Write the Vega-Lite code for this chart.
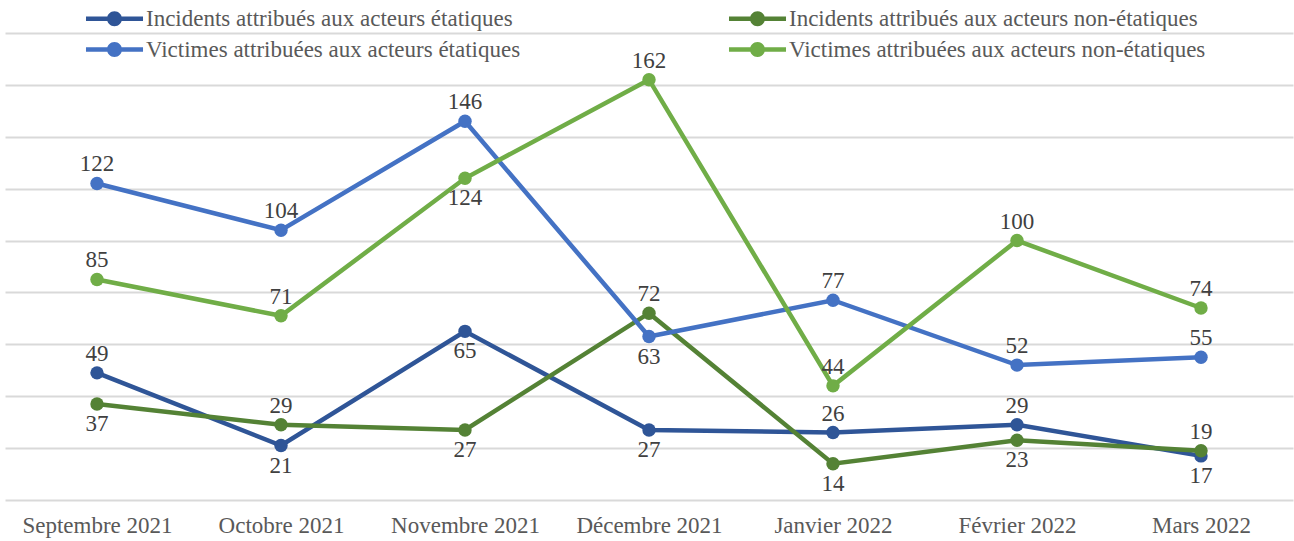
{
  "$schema": "https://vega.github.io/schema/vega-lite/v6.json",
  "width": 1288,
  "height": 467,
  "autosize": {"type": "none"},
  "padding": {"left": 5, "top": 33, "right": 1, "bottom": 41},
  "background": "white",
  "config": {"font": "Liberation Serif", "view": {"stroke": null},
    "axis": {"labelFont": "Liberation Serif"}, "legend": {"labelFont": "Liberation Serif"}, "text": {"font": "Liberation Serif"}},
  "data": {"values": [
    {"mois": "Septembre 2021", "serie": "Incidents attribués aux acteurs étatiques", "valeur": 49},
    {"mois": "Octobre 2021", "serie": "Incidents attribués aux acteurs étatiques", "valeur": 21},
    {"mois": "Novembre 2021", "serie": "Incidents attribués aux acteurs étatiques", "valeur": 65},
    {"mois": "Décembre 2021", "serie": "Incidents attribués aux acteurs étatiques", "valeur": 27},
    {"mois": "Janvier 2022", "serie": "Incidents attribués aux acteurs étatiques", "valeur": 26},
    {"mois": "Février 2022", "serie": "Incidents attribués aux acteurs étatiques", "valeur": 29},
    {"mois": "Mars 2022", "serie": "Incidents attribués aux acteurs étatiques", "valeur": 17},
    {"mois": "Septembre 2021", "serie": "Incidents attribués aux acteurs non-étatiques", "valeur": 37},
    {"mois": "Octobre 2021", "serie": "Incidents attribués aux acteurs non-étatiques", "valeur": 29},
    {"mois": "Novembre 2021", "serie": "Incidents attribués aux acteurs non-étatiques", "valeur": 27},
    {"mois": "Décembre 2021", "serie": "Incidents attribués aux acteurs non-étatiques", "valeur": 72},
    {"mois": "Janvier 2022", "serie": "Incidents attribués aux acteurs non-étatiques", "valeur": 14},
    {"mois": "Février 2022", "serie": "Incidents attribués aux acteurs non-étatiques", "valeur": 23},
    {"mois": "Mars 2022", "serie": "Incidents attribués aux acteurs non-étatiques", "valeur": 19},
    {"mois": "Septembre 2021", "serie": "Victimes attribuées aux acteurs étatiques", "valeur": 122},
    {"mois": "Octobre 2021", "serie": "Victimes attribuées aux acteurs étatiques", "valeur": 104},
    {"mois": "Novembre 2021", "serie": "Victimes attribuées aux acteurs étatiques", "valeur": 146},
    {"mois": "Décembre 2021", "serie": "Victimes attribuées aux acteurs étatiques", "valeur": 63},
    {"mois": "Janvier 2022", "serie": "Victimes attribuées aux acteurs étatiques", "valeur": 77},
    {"mois": "Février 2022", "serie": "Victimes attribuées aux acteurs étatiques", "valeur": 52},
    {"mois": "Mars 2022", "serie": "Victimes attribuées aux acteurs étatiques", "valeur": 55},
    {"mois": "Septembre 2021", "serie": "Victimes attribuées aux acteurs non-étatiques", "valeur": 85},
    {"mois": "Octobre 2021", "serie": "Victimes attribuées aux acteurs non-étatiques", "valeur": 71},
    {"mois": "Novembre 2021", "serie": "Victimes attribuées aux acteurs non-étatiques", "valeur": 124},
    {"mois": "Décembre 2021", "serie": "Victimes attribuées aux acteurs non-étatiques", "valeur": 162},
    {"mois": "Janvier 2022", "serie": "Victimes attribuées aux acteurs non-étatiques", "valeur": 44},
    {"mois": "Février 2022", "serie": "Victimes attribuées aux acteurs non-étatiques", "valeur": 100},
    {"mois": "Mars 2022", "serie": "Victimes attribuées aux acteurs non-étatiques", "valeur": 74}
  ]},
  "encoding": {
    "x": {"field": "mois", "type": "ordinal",
      "sort": ["Septembre 2021", "Octobre 2021", "Novembre 2021", "Décembre 2021", "Janvier 2022", "Février 2022", "Mars 2022"],
      "scale": {"type": "point", "padding": 0.5},
      "axis": {"title": null, "labelAngle": 0, "domain": false, "ticks": false, "grid": false, "labelFontSize": 23, "labelColor": "#595959", "labelPadding": 14}},
    "y": {"field": "valeur", "type": "quantitative",
      "scale": {"domain": [0, 180], "nice": false},
      "axis": {"title": null, "labels": false, "ticks": false, "domain": false, "values": [0, 20, 40, 60, 80, 100, 120, 140, 160, 180], "gridColor": "#d9d9d9", "gridWidth": 2}}
  },
  "layer": [
    {
      "mark": {"type": "line", "strokeWidth": 4.5, "point": {"size": 180, "filled": true, "opacity": 1}},
      "encoding": {
        "color": {"field": "serie", "type": "nominal",
          "scale": {"domain": ["Incidents attribués aux acteurs étatiques", "Incidents attribués aux acteurs non-étatiques", "Victimes attribuées aux acteurs étatiques", "Victimes attribuées aux acteurs non-étatiques"],
                    "range": ["#2F5597", "#548235", "#4472C4", "#70AD47"]},
          "legend": {"title": null, "orient": "none", "legendX": 98, "legendY": -26, "columns": 2, "direction": "horizontal",
            "symbolType": "M-2.48,-0.19 L2.48,-0.19 L2.48,0.19 L-2.48,0.19 Z M-0.65,0 A0.65,0.65 0 1,1 0.65,0 A0.65,0.65 0 1,1 -0.65,0 Z",
            "symbolSize": 529, "symbolStrokeWidth": 0, "labelFontSize": 23, "labelColor": "#595959", "labelOffset": 20,
            "columnPadding": 207, "rowPadding": 7, "labelLimit": 600,
            "encode": {"symbols": {"update": {"fill": {"scale": "color", "field": "value"}, "opacity": {"value": 1}}}}}
        }
      }
    },
    {
      "transform": [{"filter": "indexof(['Incidents attribués aux acteurs étatiques|Octobre 2021','Incidents attribués aux acteurs étatiques|Novembre 2021','Incidents attribués aux acteurs étatiques|Décembre 2021','Incidents attribués aux acteurs étatiques|Mars 2022','Incidents attribués aux acteurs non-étatiques|Septembre 2021','Incidents attribués aux acteurs non-étatiques|Novembre 2021','Incidents attribués aux acteurs non-étatiques|Janvier 2022','Incidents attribués aux acteurs non-étatiques|Février 2022','Victimes attribuées aux acteurs étatiques|Décembre 2021','Victimes attribuées aux acteurs non-étatiques|Novembre 2021'], datum.serie + '|' + datum.mois) < 0"}],
      "mark": {"type": "text", "dy": -19, "fontSize": 23, "color": "#404040"},
      "encoding": {"text": {"field": "valeur", "type": "quantitative"}}
    },
    {
      "transform": [{"filter": "indexof(['Incidents attribués aux acteurs étatiques|Octobre 2021','Incidents attribués aux acteurs étatiques|Novembre 2021','Incidents attribués aux acteurs étatiques|Décembre 2021','Incidents attribués aux acteurs étatiques|Mars 2022','Incidents attribués aux acteurs non-étatiques|Septembre 2021','Incidents attribués aux acteurs non-étatiques|Novembre 2021','Incidents attribués aux acteurs non-étatiques|Janvier 2022','Incidents attribués aux acteurs non-étatiques|Février 2022','Victimes attribuées aux acteurs étatiques|Décembre 2021','Victimes attribuées aux acteurs non-étatiques|Novembre 2021'], datum.serie + '|' + datum.mois) >= 0"}],
      "mark": {"type": "text", "dy": 20, "fontSize": 23, "color": "#404040"},
      "encoding": {"text": {"field": "valeur", "type": "quantitative"}}
    }
  ]
}
